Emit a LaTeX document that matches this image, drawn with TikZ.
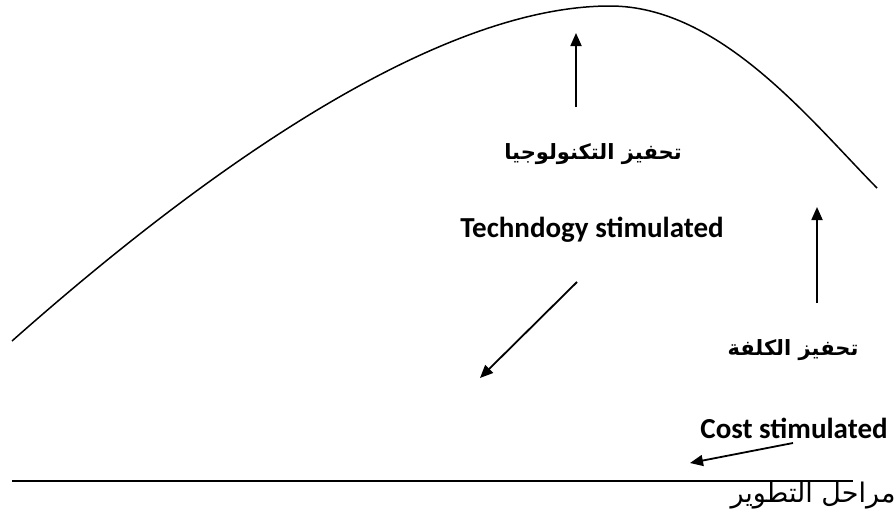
\documentclass[tikz,border=0pt]{standalone}
\usepackage{fontspec}
\setmainfont{Carlito}
\TeXXeTstate=1
\newfontfamily\arabicfont[Script=Arabic]{DejaVu Sans}
\usetikzlibrary{arrows.meta}
\tikzset{
  arr/.style={line width=1.8pt,-{Triangle[length=13pt,width=11pt]}},
  entxt/.style={font=\fontsize{29}{32}\selectfont\bfseries,inner sep=0pt},
  artxt/.style={font=\arabicfont\fontsize{21}{24}\selectfont\bfseries,inner sep=0pt},
  arreg/.style={font=\arabicfont\fontsize{27}{30}\selectfont,inner sep=0pt},
}
\begin{document}
\begin{tikzpicture}[x=1pt,y=-1pt]
\useasboundingbox (0,0) rectangle (896,522);
% curve
\draw[line width=1.5pt] (12,341) .. controls (232,146) and (450,6) .. (610,6)
  .. controls (720,6) and (810,120) .. (877,188);
% baseline
\draw[line width=1.7pt] (12,481) -- (853,481);
% texts
\node[artxt] (tarab) at (593,154) {\beginR تحفيز التكنولوجيا\endR};
\node[entxt] (teng) at (592,230) {Techndogy stimulated};
\node[artxt] (carab) at (793,350) {\beginR تحفيز الكلفة\endR};
\node[entxt] (ceng) at (794,428) {Cost stimulated};
\node[arreg] (stages) at (813,496) {\beginR مراحل التطوير\endR};
% arrows
\coordinate (a1s) at (576,107); \coordinate (a1e) at (576,33);
\coordinate (a2s) at (817,303); \coordinate (a2e) at (817,207);
\coordinate (a3s) at (577,282); \coordinate (a3e) at (480,378);
\coordinate (a4s) at (793,443); \coordinate (a4e) at (690,463);
\draw[arr] (a1s) -- (a1e);
\draw[arr] (a2s) -- (a2e);
\draw[arr] (a3s) -- (a3e);
\draw[arr] (a4s) -- (a4e);
\end{tikzpicture}
\end{document}
